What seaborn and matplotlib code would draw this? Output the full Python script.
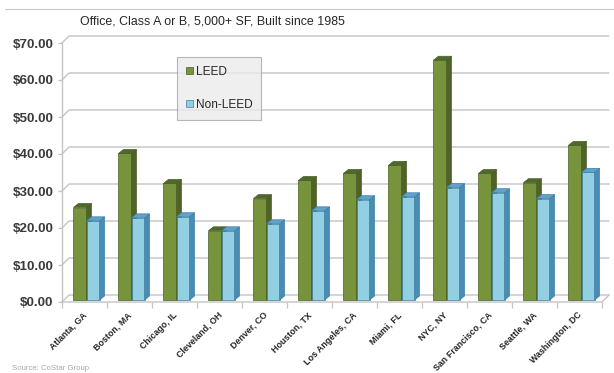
import numpy as np
import pandas as pd
import seaborn as sns
import matplotlib
matplotlib.use("Agg")
import matplotlib.pyplot as plt
from matplotlib.patches import Polygon, Patch
from matplotlib.lines import Line2D
from matplotlib.transforms import ScaledTranslation

# Average asking rent per square foot
cities = ["Atlanta, GA", "Boston, MA", "Chicago, IL", "Cleveland, OH", "Denver, CO",
          "Houston, TX", "Los Angeles, CA", "Miami, FL", "NYC, NY", "San Francisco, CA",
          "Seattle, WA", "Washington, DC"]
leed = [25.0, 39.6, 31.5, 18.7, 27.4, 32.3, 34.2, 36.4, 64.8, 34.2, 31.7, 41.8]
non_leed = [21.4, 22.2, 22.5, 18.7, 20.6, 24.1, 27.1, 27.9, 30.4, 29.0, 27.4, 34.5]
series_names = ["LEED", "Non-LEED"]
y_ticks = [0, 10, 20, 30, 40, 50, 60, 70]

title = "Office, Class A or B, 5,000+ SF, Built since 1985"
source = "Source: CoStar Group"

df = pd.DataFrame({
    "City": cities * 2,
    "Rent": leed + non_leed,
    "Series": [series_names[0]] * len(cities) + [series_names[1]] * len(cities),
})

sns.set_theme(style="white")
plt.rcParams["font.family"] = ["Liberation Sans", "DejaVu Sans"]

W, H = 614, 373
fig = plt.figure(figsize=(W / 100, H / 100), dpi=100)
ax_left, ax_right, ax_bottom, ax_top = 62, 602, 302, 43
ax = fig.add_axes([ax_left / W, (H - ax_bottom) / H,
                   (ax_right - ax_left) / W, (ax_bottom - ax_top) / H])

front = {"LEED": "#77933C", "Non-LEED": "#93CFE3"}
side = {"LEED": "#4F6228", "Non-LEED": "#4A8DB4"}
top = {"LEED": "#4E6A2A", "Non-LEED": "#5FA3CB"}
edge = {"LEED": "#4A5E26", "Non-LEED": "#3F7EA3"}

sns.barplot(data=df, x="City", y="Rent", hue="Series", palette=front,
            width=0.58, gap=0, legend=False, ax=ax, saturation=1,
            err_kws={"linewidth": 0})

ax.set_xlim(-0.5, len(cities) - 0.5)
ax.set_ylim(0, 70)

# pixel -> data conversions
px_x = (len(cities)) / (ax_right - ax_left)
px_y = 70 / (ax_bottom - ax_top)

# bars sit slightly behind the front plane
shift = ax.transData + ScaledTranslation(2 / 100, 2 / 100, fig.dpi_scale_trans)
bdx, bdy = 5 * px_x, 4 * px_y

n = len(cities)
for i, p in enumerate(ax.patches):
    ser = series_names[0] if i < n else series_names[1]
    z = 3 if ser == "LEED" else 4
    p.set_transform(shift)
    p.set_edgecolor(edge[ser])
    p.set_linewidth(0.5)
    p.set_zorder(z)
    x0, w, h = p.get_x(), p.get_width(), p.get_height()
    x1 = x0 + w
    side_poly = Polygon([(x1, 0), (x1, h), (x1 + bdx, h + bdy), (x1 + bdx, bdy)],
                        closed=True, facecolor=side[ser], edgecolor=edge[ser],
                        linewidth=0.5, transform=shift, zorder=z, clip_on=False)
    top_poly = Polygon([(x0, h), (x1, h), (x1 + bdx, h + bdy), (x0 + bdx, h + bdy)],
                       closed=True, facecolor=top[ser], edgecolor=edge[ser],
                       linewidth=0.5, transform=shift, zorder=z, clip_on=False)
    ax.add_patch(side_poly)
    ax.add_patch(top_poly)

# back wall gridlines with perspective stubs
gdx, gdy = 7 * px_x, 7 * px_y
xl, xr = -0.5, n - 0.5
grid_c = "#C4C4C4"
for v in y_ticks:
    ax.add_line(Line2D([xl, xl + gdx, xr + gdx], [v, v + gdy, v + gdy],
                       color=grid_c, lw=1.0, zorder=1, clip_on=False))
# floor
ax.add_line(Line2D([xl, xr, xr + gdx], [0, 0, gdy], color=grid_c, lw=1.0,
                   zorder=1, clip_on=False))

for s in ["top", "right", "bottom"]:
    ax.spines[s].set_visible(False)
ax.spines["left"].set_color(grid_c)
ax.spines["left"].set_linewidth(1.0)

ax.set_yticks(y_ticks)
ax.set_yticklabels([f"${v:.2f}" for v in y_ticks], fontsize=9.6, fontweight="bold",
                   color="#3A3A3A")
ax.tick_params(axis="y", left=True, length=3, width=0.9, color=grid_c, pad=3)

ax.set_xticks(range(n))
ax.set_xticklabels(cities, rotation=45, ha="right", rotation_mode="anchor",
                   fontsize=6.4, fontweight="bold", color="#262626")
ax.set_xticks(np.arange(-0.5, n, 1.0), minor=True)
ax.tick_params(axis="x", which="major", length=0, pad=6)
ax.tick_params(axis="x", which="minor", bottom=True, length=4, width=0.9, color=grid_c)
for lbl in ax.get_xticklabels():
    lbl.set_transform(lbl.get_transform() + ScaledTranslation(-2 / 100, 0, fig.dpi_scale_trans))
ax.set_xlabel("")
ax.set_ylabel("")

# header rule and title
fig.add_artist(Line2D([5 / W, 1.0], [1 - 8.5 / H, 1 - 8.5 / H], color="#C8C8C8", lw=0.8))
fig.text(80 / W, 1 - 22 / H, title, fontsize=8.9, color="#262626", va="center", ha="left")
fig.text(12 / W, 1 - 368 / H, source, fontsize=5.6, color="#A8A8A8", va="center", ha="left")

handles = [Patch(facecolor=front[s], edgecolor=edge[s], linewidth=0.5) for s in series_names]
leg = fig.legend(handles, series_names, loc="upper left",
                 bbox_to_anchor=(177 / W, 1 - 57 / H), frameon=True, fancybox=False,
                 fontsize=8.6, handlelength=0.55, handleheight=0.55, handletextpad=0.25,
                 labelspacing=1.75, borderpad=0.75, borderaxespad=0)
leg.get_frame().set_facecolor("#EBEBEB")
leg.get_frame().set_edgecolor("#A6A6A6")
leg.get_frame().set_linewidth(0.8)
for t in leg.get_texts():
    t.set_color("#262626")

fig.savefig("out.png", dpi=100)
